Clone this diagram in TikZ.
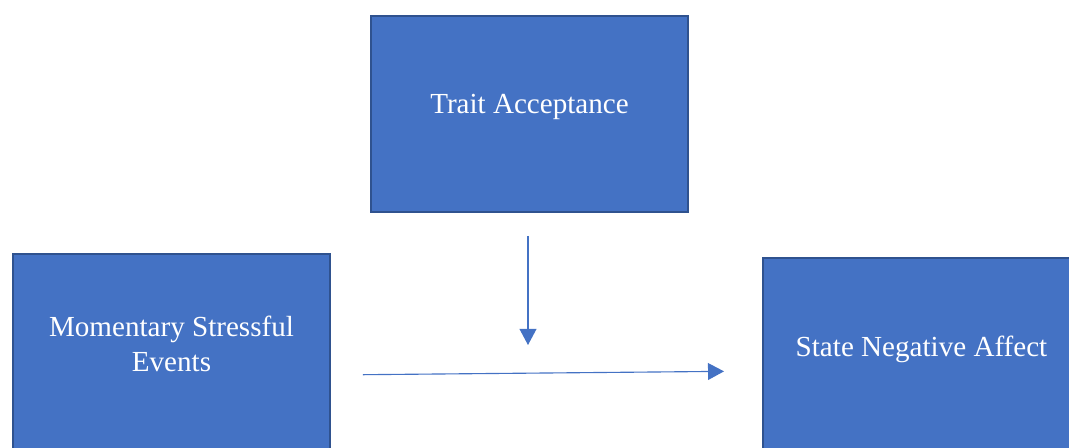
\documentclass[tikz,border=0pt]{standalone}
\usepackage{fontspec}
\setmainfont{Liberation Serif}
\usetikzlibrary{positioning, arrows.meta}

\definecolor{boxblue}{HTML}{4472C4}
\definecolor{boxedge}{HTML}{2F528F}

\begin{document}
\begin{tikzpicture}[
    varbox/.style={rectangle, draw=boxedge, line width=1.4pt, fill=boxblue,
        minimum width=7.925cm, minimum height=4.9cm},
    boxtext/.style={text=white, align=center, font=\fontsize{20.7}{25}\selectfont},
    flow/.style={draw=boxblue, line width=0.8pt, -{Triangle[length=0.4cm, width=0.42cm]}}
]

\useasboundingbox (0,0) rectangle (26.725,11.2);

% --- Cajas ---
\node[varbox] (trait) at (13.2375,8.35) {};
\node[varbox] (mse) at (4.2875,2.4) {};
\node[varbox] (sna) at (23.0375,2.3) {};

% --- Textos ---
\node[boxtext] (traitText) at ([yshift=0.17cm]trait.center) {Trait Acceptance};
\node[boxtext] (mseText) at ([yshift=0.2cm]mse.center) {Momentary Stressful\\Events};
\node[boxtext] (snaText) at ([yshift=0.17cm]sna.center) {State Negative Affect};

% --- Flechas ---
\draw[flow, shorten <=0.8cm, shorten >=0.95cm] ([yshift=-0.575cm]mse.east) -- ([yshift=-0.375cm]sna.west);
\coordinate (mod) at (13.2,1.875);
\draw[flow, shorten <=0.575cm, shorten >=0.7cm] (trait.south -| mod) -- (mod);

\end{tikzpicture}
\end{document}
